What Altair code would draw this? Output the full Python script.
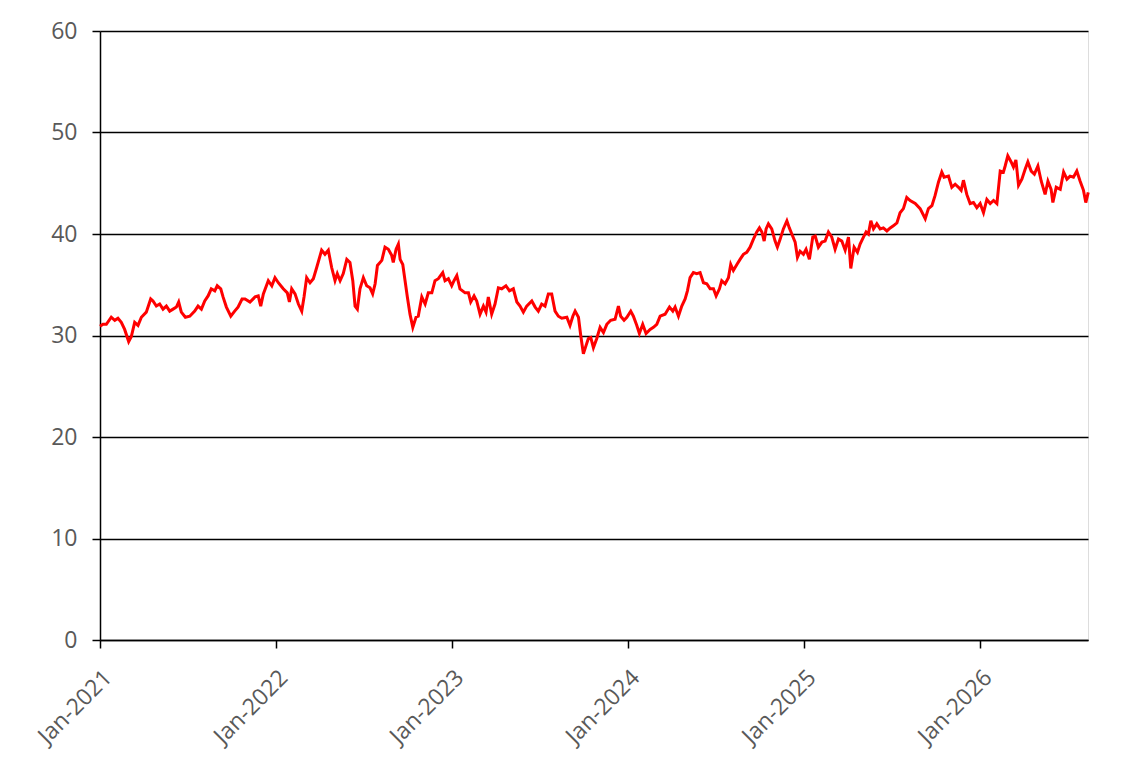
import altair as alt
import pandas as pd

# years elapsed since 1 Jan 2021
years = [
    0.000, 0.017, 0.036, 0.064, 0.084, 0.102, 0.121, 0.140, 0.163, 0.178, 0.197, 0.216, 0.235, 0.263,
    0.288, 0.301, 0.320, 0.339, 0.358, 0.377, 0.396, 0.415, 0.434, 0.447, 0.462, 0.485, 0.510, 0.538,
    0.557, 0.576, 0.595, 0.614, 0.632, 0.652, 0.666, 0.686, 0.699, 0.718, 0.743, 0.765, 0.784, 0.807,
    0.824, 0.852, 0.881, 0.899, 0.913, 0.928, 0.956, 0.976, 0.994, 1.013, 1.041, 1.064, 1.076, 1.089,
    1.108, 1.127, 1.146, 1.159, 1.174, 1.193, 1.212, 1.231, 1.259, 1.278, 1.297, 1.316, 1.335, 1.348,
    1.364, 1.382, 1.402, 1.420, 1.436, 1.449, 1.462, 1.477, 1.496, 1.515, 1.534, 1.549, 1.563, 1.576,
    1.601, 1.619, 1.638, 1.657, 1.666, 1.682, 1.695, 1.705, 1.720, 1.733, 1.746, 1.761, 1.777, 1.795,
    1.808, 1.828, 1.847, 1.865, 1.885, 1.903, 1.922, 1.947, 1.960, 1.979, 1.998, 2.011, 2.027, 2.045,
    2.074, 2.093, 2.106, 2.125, 2.140, 2.159, 2.178, 2.193, 2.206, 2.225, 2.244, 2.263, 2.282, 2.306,
    2.326, 2.348, 2.368, 2.386, 2.405, 2.424, 2.453, 2.472, 2.490, 2.509, 2.528, 2.547, 2.566, 2.585,
    2.604, 2.623, 2.652, 2.670, 2.686, 2.699, 2.718, 2.731, 2.746, 2.761, 2.774, 2.788, 2.803, 2.822,
    2.841, 2.860, 2.879, 2.901, 2.926, 2.945, 2.958, 2.977, 2.993, 3.015, 3.030, 3.049, 3.064, 3.083,
    3.102, 3.125, 3.144, 3.163, 3.182, 3.210, 3.235, 3.254, 3.267, 3.286, 3.305, 3.324, 3.337, 3.352,
    3.371, 3.390, 3.409, 3.428, 3.447, 3.466, 3.485, 3.500, 3.519, 3.532, 3.551, 3.570, 3.583, 3.598,
    3.618, 3.636, 3.655, 3.674, 3.693, 3.712, 3.731, 3.746, 3.760, 3.773, 3.784, 3.797, 3.816, 3.835,
    3.848, 3.864, 3.882, 3.902, 3.916, 3.930, 3.949, 3.962, 3.977, 3.996, 4.011, 4.030, 4.049, 4.063,
    4.081, 4.101, 4.119, 4.138, 4.157, 4.176, 4.195, 4.214, 4.233, 4.252, 4.265, 4.284, 4.303, 4.318,
    4.337, 4.352, 4.365, 4.379, 4.394, 4.413, 4.432, 4.450, 4.470, 4.489, 4.507, 4.527, 4.545, 4.564,
    4.583, 4.602, 4.631, 4.659, 4.688, 4.706, 4.726, 4.744, 4.763, 4.782, 4.795, 4.820, 4.839, 4.858,
    4.877, 4.892, 4.905, 4.924, 4.943, 4.962, 4.981, 5.000, 5.019, 5.038, 5.057, 5.076, 5.095, 5.114,
    5.132, 5.142, 5.157, 5.176, 5.189, 5.203, 5.218, 5.237, 5.256, 5.271, 5.290, 5.308, 5.328, 5.347,
    5.369, 5.385, 5.403, 5.413, 5.432, 5.455, 5.474, 5.493, 5.511, 5.530, 5.549, 5.568, 5.587, 5.600,
    5.614,
]

values = [
    30.9, 31.1, 31.1, 31.8, 31.5, 31.7, 31.3, 30.6, 29.4, 29.9, 31.3, 31.0, 31.8, 32.3,
    33.6, 33.4, 32.9, 33.1, 32.6, 32.9, 32.4, 32.6, 32.8, 33.3, 32.3, 31.8, 31.9, 32.4,
    32.9, 32.6, 33.4, 33.9, 34.6, 34.4, 34.9, 34.6, 33.8, 32.8, 31.9, 32.4, 32.8, 33.6,
    33.6, 33.3, 33.8, 33.9, 32.9, 34.1, 35.4, 34.9, 35.7, 35.2, 34.6, 34.2, 33.3, 34.6,
    34.1, 33.1, 32.4, 33.8, 35.7, 35.2, 35.6, 36.7, 38.4, 38.0, 38.4, 36.7, 35.4, 36.1,
    35.4, 36.1, 37.5, 37.2, 35.4, 32.9, 32.6, 34.6, 35.7, 34.9, 34.7, 34.1, 35.1, 36.9,
    37.4, 38.7, 38.5, 37.9, 37.2, 38.5, 39.0, 37.5, 37.0, 35.4, 33.8, 32.1, 30.8, 31.8,
    31.9, 33.8, 33.1, 34.2, 34.2, 35.4, 35.6, 36.2, 35.4, 35.6, 34.9, 35.4, 35.9, 34.6,
    34.2, 34.2, 33.3, 33.9, 33.4, 32.1, 32.9, 32.3, 33.8, 32.1, 33.1, 34.7, 34.6, 34.9,
    34.4, 34.6, 33.3, 32.9, 32.3, 32.9, 33.4, 32.8, 32.4, 33.1, 32.9, 34.1, 34.1, 32.4,
    31.9, 31.7, 31.8, 31.0, 31.9, 32.4, 31.8, 30.0, 28.2, 29.0, 29.7, 29.8, 28.8, 29.7,
    30.8, 30.3, 31.1, 31.5, 31.6, 32.9, 31.9, 31.5, 31.8, 32.4, 31.9, 31.0, 30.2, 31.1,
    30.2, 30.6, 30.8, 31.1, 31.9, 32.1, 32.8, 32.4, 32.8, 31.9, 32.9, 33.6, 34.4, 35.7,
    36.2, 36.1, 36.2, 35.2, 35.1, 34.6, 34.6, 33.9, 34.6, 35.4, 35.1, 35.7, 37.0, 36.4,
    37.0, 37.5, 38.0, 38.2, 38.7, 39.5, 40.2, 40.6, 40.2, 39.3, 40.5, 41.0, 40.5, 39.3,
    38.7, 39.5, 40.5, 41.3, 40.6, 40.0, 39.2, 37.7, 38.3, 38.0, 38.5, 37.5, 39.7, 39.8,
    38.7, 39.2, 39.3, 40.2, 39.7, 38.5, 39.5, 39.3, 38.4, 39.7, 36.6, 38.7, 38.2, 39.0,
    39.7, 40.2, 40.0, 41.3, 40.5, 41.0, 40.5, 40.6, 40.3, 40.6, 40.8, 41.1, 42.1, 42.5,
    43.6, 43.3, 43.0, 42.5, 41.5, 42.5, 42.8, 43.8, 45.1, 46.1, 45.6, 45.7, 44.6, 44.9,
    44.6, 44.3, 45.3, 43.9, 43.0, 43.1, 42.6, 43.0, 42.1, 43.4, 43.0, 43.3, 43.0, 46.2,
    46.1, 46.7, 47.7, 47.1, 46.6, 47.3, 44.8, 45.4, 46.4, 47.1, 46.2, 45.9, 46.7, 45.2,
    43.9, 45.2, 44.4, 43.1, 44.6, 44.4, 46.1, 45.4, 45.7, 45.6, 46.2, 45.2, 44.3, 43.1,
    44.1,
]

tick_years = [2021, 2022, 2023, 2024, 2025, 2026]
y_ticks = [0, 10, 20, 30, 40, 50, 60]

start = pd.Timestamp("2021-01-01")
dates = [start + pd.to_timedelta(y * 365.25, unit="D") for y in years]
df = pd.DataFrame({"date": [d.strftime("%Y-%m-%dT%H:%M:%S") for d in dates], "value": values})

end = dates[-1]
font = "Open Sans"
label_color = "#595959"

chart = (
    alt.Chart(df)
    .mark_line(color="#FF0000", strokeWidth=3, interpolate="linear")
    .encode(
        x=alt.X(
            "date:T",
            scale=alt.Scale(
                domain=[
                    alt.DateTime(year=2021, month=1, date=1),
                    alt.DateTime(year=end.year, month=end.month, date=end.day),
                ],
                nice=False,
            ),
            axis=alt.Axis(
                values=[alt.DateTime(year=y, month=1, date=1) for y in tick_years],
                format="%b-%Y",
                labelAngle=-45,
                labelFont=font,
                labelFontSize=23,
                labelColor=label_color,
                domainColor="black",
                domainWidth=1.5,
                tickColor="black",
                tickWidth=1.5,
                tickSize=8,
                grid=False,
                title=None,
                labelPadding=18,
            ),
        ),
        y=alt.Y(
            "value:Q",
            scale=alt.Scale(domain=[0, 60], nice=False, zero=True),
            axis=alt.Axis(
                values=y_ticks,
                labelFont=font,
                labelFontSize=23,
                labelColor=label_color,
                domainColor="black",
                domainWidth=1.5,
                tickColor="black",
                tickWidth=1.5,
                tickSize=8,
                grid=True,
                gridColor="black",
                gridWidth=1.5,
                title=None,
                labelPadding=15,
                minExtent=50,
                maxExtent=50,
            ),
        ),
    )
    .properties(
        width=988,
        height=609,
        padding={"left": 26, "top": 12, "right": 20, "bottom": 5},
    )
    .configure_view(stroke="black", strokeWidth=1.5)
    .configure(background="white")
)

chart.save("out.html", embed_options={"renderer": "svg", "actions": False})
